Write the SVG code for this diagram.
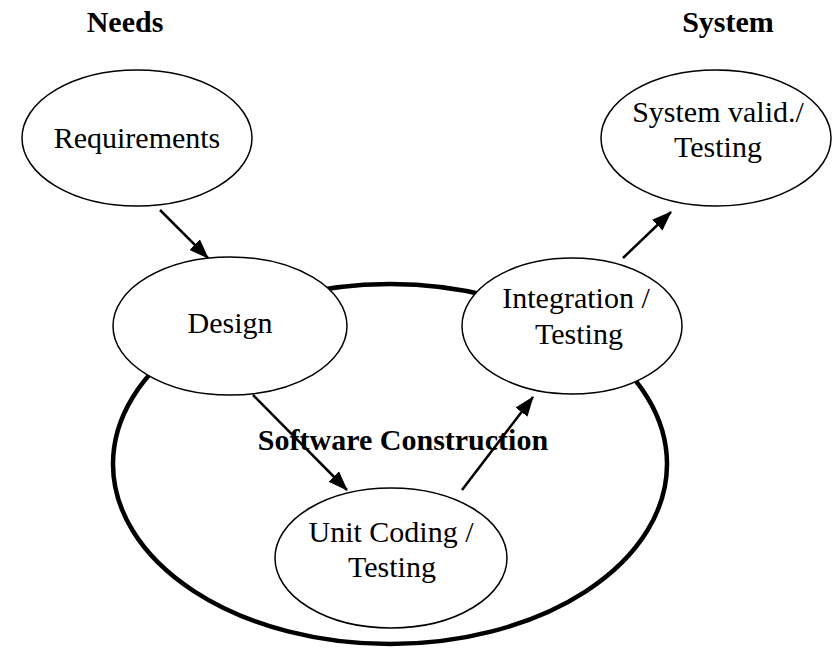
<svg xmlns="http://www.w3.org/2000/svg" width="833" height="655" viewBox="0 0 833 655">
<style>
  .node { fill: #ffffff; stroke: #000000; stroke-width: 1.5; }
  .lbl { font-family: "Liberation Serif", "Times New Roman", serif; font-size: 30px; fill: #000000; text-anchor: middle; }
  .bold { font-weight: bold; }
  .conn { stroke: #000000; stroke-width: 2.5; fill: none; marker-end: url(#arrow); }
</style>
<defs>
  <marker id="arrow" markerUnits="userSpaceOnUse" markerWidth="20" markerHeight="15" viewBox="0 0 20 15" refX="19" refY="7.5" orient="auto">
    <path d="M0,0 L20,7.5 L0,15 Z" fill="#000000"/>
  </marker>
</defs>
<rect width="833" height="655" fill="#ffffff"/>
<g id="software-construction">
  <ellipse cx="390" cy="464" rx="277" ry="180" fill="none" stroke="#000000" stroke-width="4.5"/>
  <text class="lbl bold" x="403" y="450">Software Construction</text>
</g>
<text class="lbl bold" x="125" y="32">Needs</text>
<text class="lbl bold" x="728" y="32">System</text>
<g id="requirements">
  <ellipse class="node" cx="137" cy="138" rx="115" ry="68"/>
  <text class="lbl" x="137" y="148">Requirements</text>
</g>
<g id="system-validation">
  <ellipse class="node" cx="716" cy="138" rx="115" ry="68"/>
  <text class="lbl" x="718" y="122">System valid./</text>
  <text class="lbl" x="718" y="157">Testing</text>
</g>
<g id="design">
  <ellipse class="node" cx="230" cy="326" rx="117" ry="69"/>
  <text class="lbl" x="230" y="333">Design</text>
</g>
<g id="integration">
  <ellipse class="node" cx="572" cy="326" rx="110" ry="68"/>
  <text class="lbl" x="576" y="308">Integration /</text>
  <text class="lbl" x="579" y="344">Testing</text>
</g>
<g id="unit-coding">
  <ellipse class="node" cx="391" cy="558" rx="116" ry="70"/>
  <text class="lbl" x="391" y="542">Unit Coding /</text>
  <text class="lbl" x="392" y="577">Testing</text>
</g>
<g id="connectors">
  <line class="conn" x1="160" y1="210" x2="208" y2="258"/>
  <line class="conn" x1="253" y1="395" x2="347" y2="490"/>
  <line class="conn" x1="462" y1="490" x2="533" y2="397"/>
  <line class="conn" x1="623" y1="258" x2="671" y2="212"/>
</g>
</svg>
